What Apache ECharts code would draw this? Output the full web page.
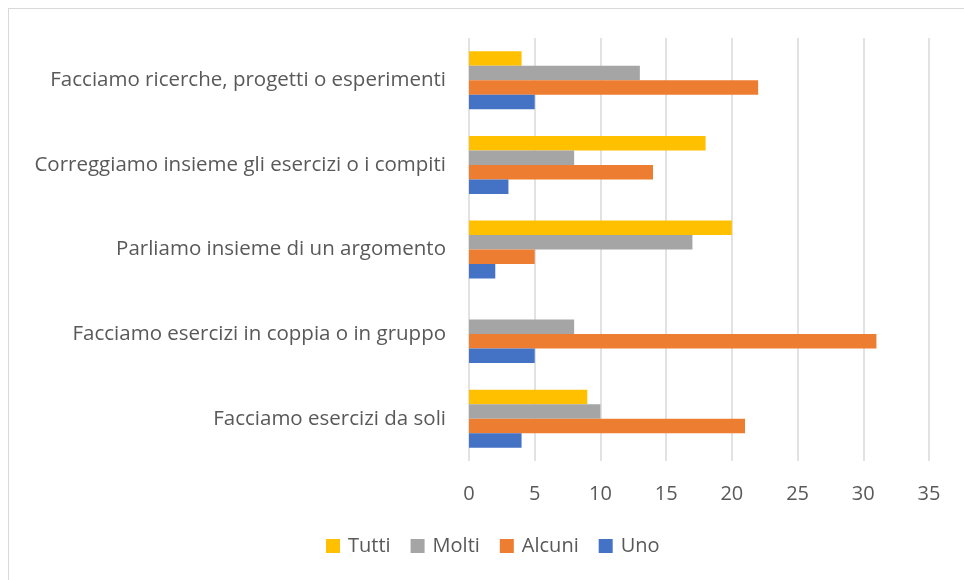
<!DOCTYPE html>
<html>
<head>
<meta charset="utf-8">
<script src="https://cdn.jsdelivr.net/npm/echarts@6/dist/echarts.min.js"></script>
<style>
  html, body { margin: 0; padding: 0; background: #fff; }
  #frame { position: absolute; left: 8px; top: 8px; width: 970px; height: 580px; border: 1px solid #d9d9d9; box-sizing: border-box; }
  #chart { position: absolute; left: 0; top: 0; width: 964px; height: 580px; }
</style>
</head>
<body>
<div id="frame"></div>
<div id="chart"></div>
<script>
// categories bottom -> top
var categories = [
  'Facciamo esercizi da soli',
  'Facciamo esercizi in coppia o in gruppo',
  'Parliamo insieme di un argomento',
  'Correggiamo insieme gli esercizi o i compiti',
  'Facciamo ricerche, progetti o esperimenti'
];
var uno    = [4, 5, 2, 3, 5];
var alcuni = [21, 31, 5, 14, 22];
var molti  = [10, 8, 17, 8, 13];
var tutti  = [9, 0, 20, 18, 4];
var legendOrder = ['Tutti', 'Molti', 'Alcuni', 'Uno'];

var txt = '#595959';
var font = 'Open Sans';

var chart = echarts.init(document.getElementById('chart'));
function bar(name, data, color) {
  return { name: name, type: 'bar', data: data, barWidth: 14.5, barGap: '0%',
           itemStyle: { color: color }, emphasis: { disabled: true } };
}
chart.setOption({
  animation: false,
  textStyle: { fontFamily: font },
  grid: { left: 469, right: 35, top: 38, bottom: 119 },
  legend: {
    data: legendOrder, bottom: 19, left: 321,
    icon: 'rect', itemWidth: 14, itemHeight: 14, itemGap: 20,
    textStyle: { color: txt, fontSize: 20, fontFamily: font, padding: [0, 0, 0, 3] }
  },
  xAxis: {
    type: 'value', min: 0, max: 35, interval: 5,
    axisLine: { show: false }, axisTick: { show: false },
    splitLine: { lineStyle: { color: '#d9d9d9', width: 1.5 } },
    axisLabel: { color: txt, fontSize: 20, margin: 23, fontFamily: font }
  },
  yAxis: {
    type: 'category', data: categories,
    axisLine: { show: false }, axisTick: { show: false },
    axisLabel: { color: txt, fontSize: 20.5, margin: 23, fontFamily: font }
  },
  // first series is drawn at the top of each group
  series: [
    bar('Tutti', tutti, '#ffc000'),
    bar('Molti', molti, '#a5a5a5'),
    bar('Alcuni', alcuni, '#ed7d31'),
    bar('Uno', uno, '#4472c4')
  ]
});
</script>
</body>
</html>
